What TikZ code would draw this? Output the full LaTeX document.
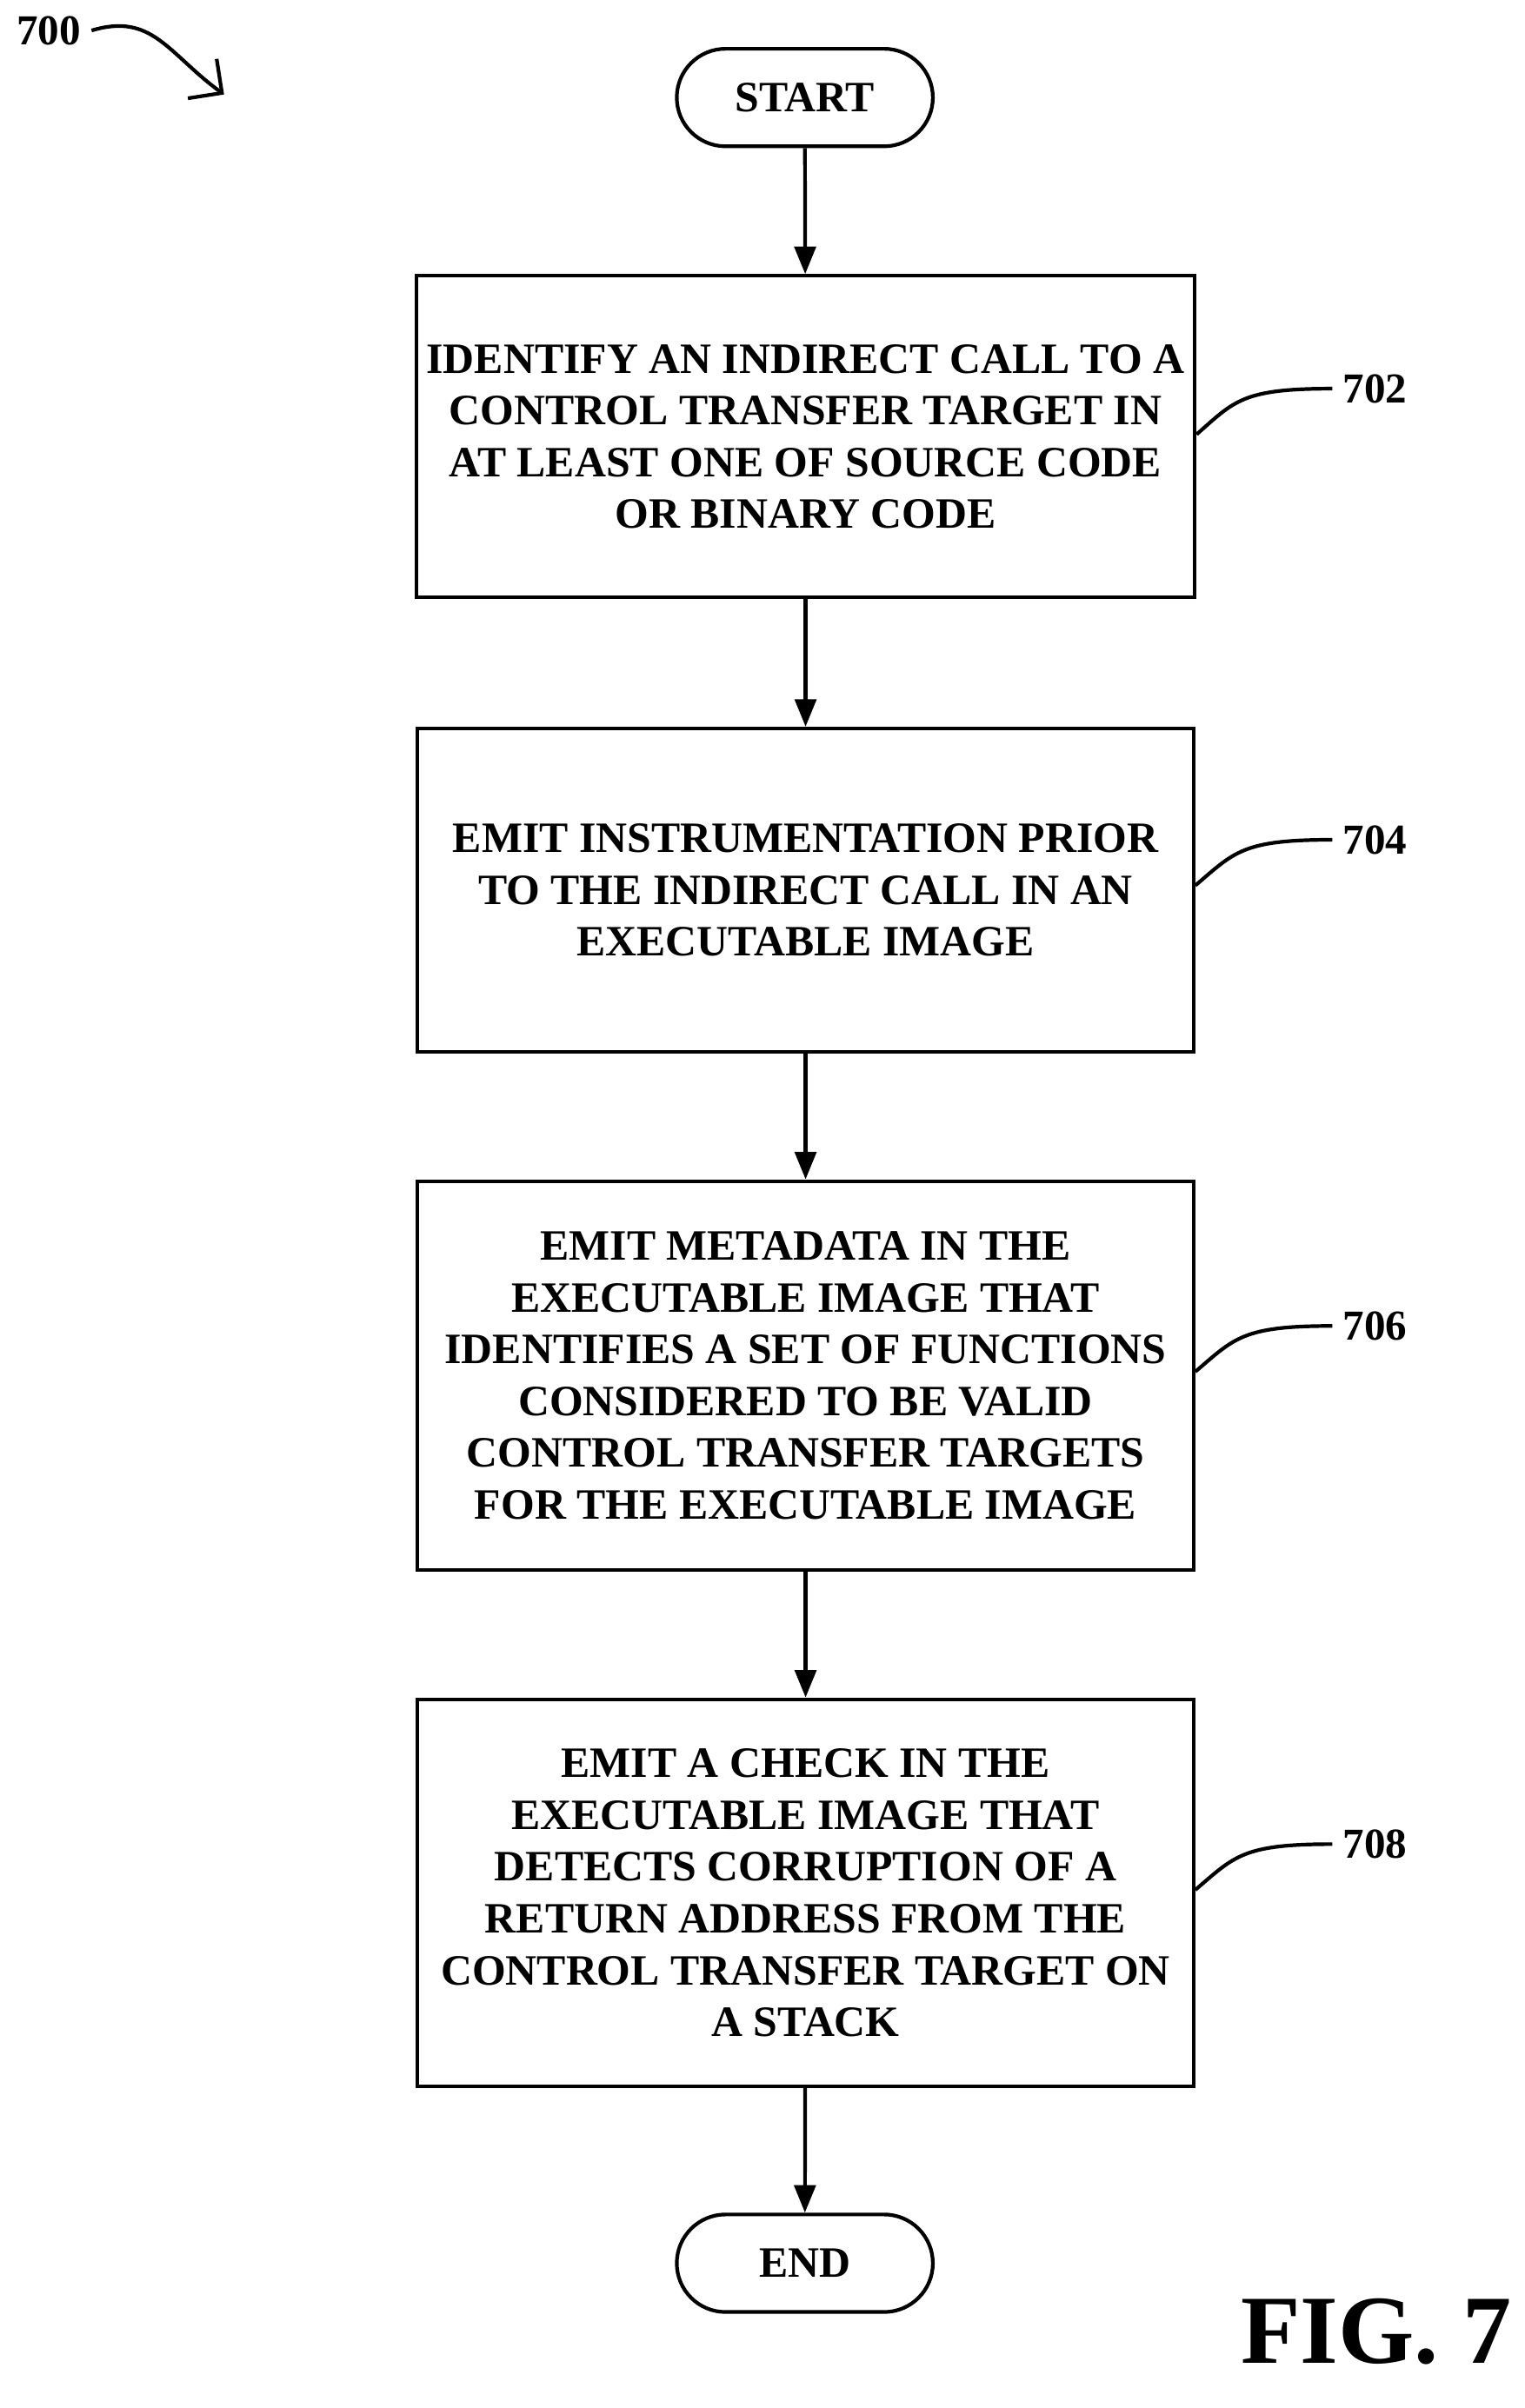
\documentclass[tikz,border=0pt]{standalone}
\usepackage{fontspec}
\setmainfont{Liberation Serif}
\usetikzlibrary{positioning,arrows.meta}
\begin{document}
\begin{tikzpicture}[x=0.5pt,y=-0.5pt,
	box/.style={rectangle, draw=black, line width=1.2pt, minimum width=254.5pt, align=center, font=\fontsize{14.2}{17}\selectfont\bfseries},
	term/.style={rectangle, rounded corners=16pt, draw=black, line width=1.2pt, minimum width=84pt, minimum height=32pt, font=\fontsize{14.2}{17}\selectfont\bfseries},
	flow/.style={-{Triangle[length=9pt,width=7pt]}, line width=1.2pt},
	lead/.style={line width=1.2pt},
	ref/.style={font=\fontsize{14}{16}\selectfont\bfseries, anchor=west}]
	\useasboundingbox (0,0) rectangle (1000,1580);
	\node[term] at (528,64)(start){START};
	\node[box, minimum height=105.5pt] at (528.5,286.5)(s702){IDENTIFY AN INDIRECT CALL TO A\\CONTROL TRANSFER TARGET IN\\AT LEAST ONE OF SOURCE CODE\\OR BINARY CODE};
	\node[box, minimum height=106pt] at (528.5,584)(s704){EMIT INSTRUMENTATION PRIOR\\TO THE INDIRECT CALL IN AN\\EXECUTABLE IMAGE};
	\node[box, minimum height=127.5pt] at (528.5,902.5)(s706){EMIT METADATA IN THE\\EXECUTABLE IMAGE THAT\\IDENTIFIES A SET OF FUNCTIONS\\CONSIDERED TO BE VALID\\CONTROL TRANSFER TARGETS\\FOR THE EXECUTABLE IMAGE};
	\node[box, minimum height=127pt] at (528.5,1242)(s708){EMIT A CHECK IN THE\\EXECUTABLE IMAGE THAT\\DETECTS CORRUPTION OF A\\RETURN ADDRESS FROM THE\\CONTROL TRANSFER TARGET ON\\A STACK};
	\node[term] at (528,1485)(end){END};
	\draw[flow](start) -- (s702);
	\draw[flow](s702) -- (s704);
	\draw[flow](s704) -- (s706);
	\draw[flow](s706) -- (s708);
	\draw[flow](s708) -- (end);
	% reference numerals
	\foreach \n/\y in {702/255, 704/551, 706/870, 708/1210}{
		\node[ref] at (874,\y)(r\n){\n};
		\draw[lead](s\n.east |- 0,\y+30) .. controls (810,\y+8) and (815,\y) .. (r\n.west);
	}
	\node[ref, anchor=center] at (32,20)(r700){700};
	\draw[-{Straight Barb[length=8pt]}, line width=1.2pt](r700.east) .. controls (100,8) and (110,35) .. (147,62);
	\node[font=\fontsize{32}{36}\selectfont\bfseries] at (903,1530)(fig){FIG. 7};
\end{tikzpicture}
\end{document}
